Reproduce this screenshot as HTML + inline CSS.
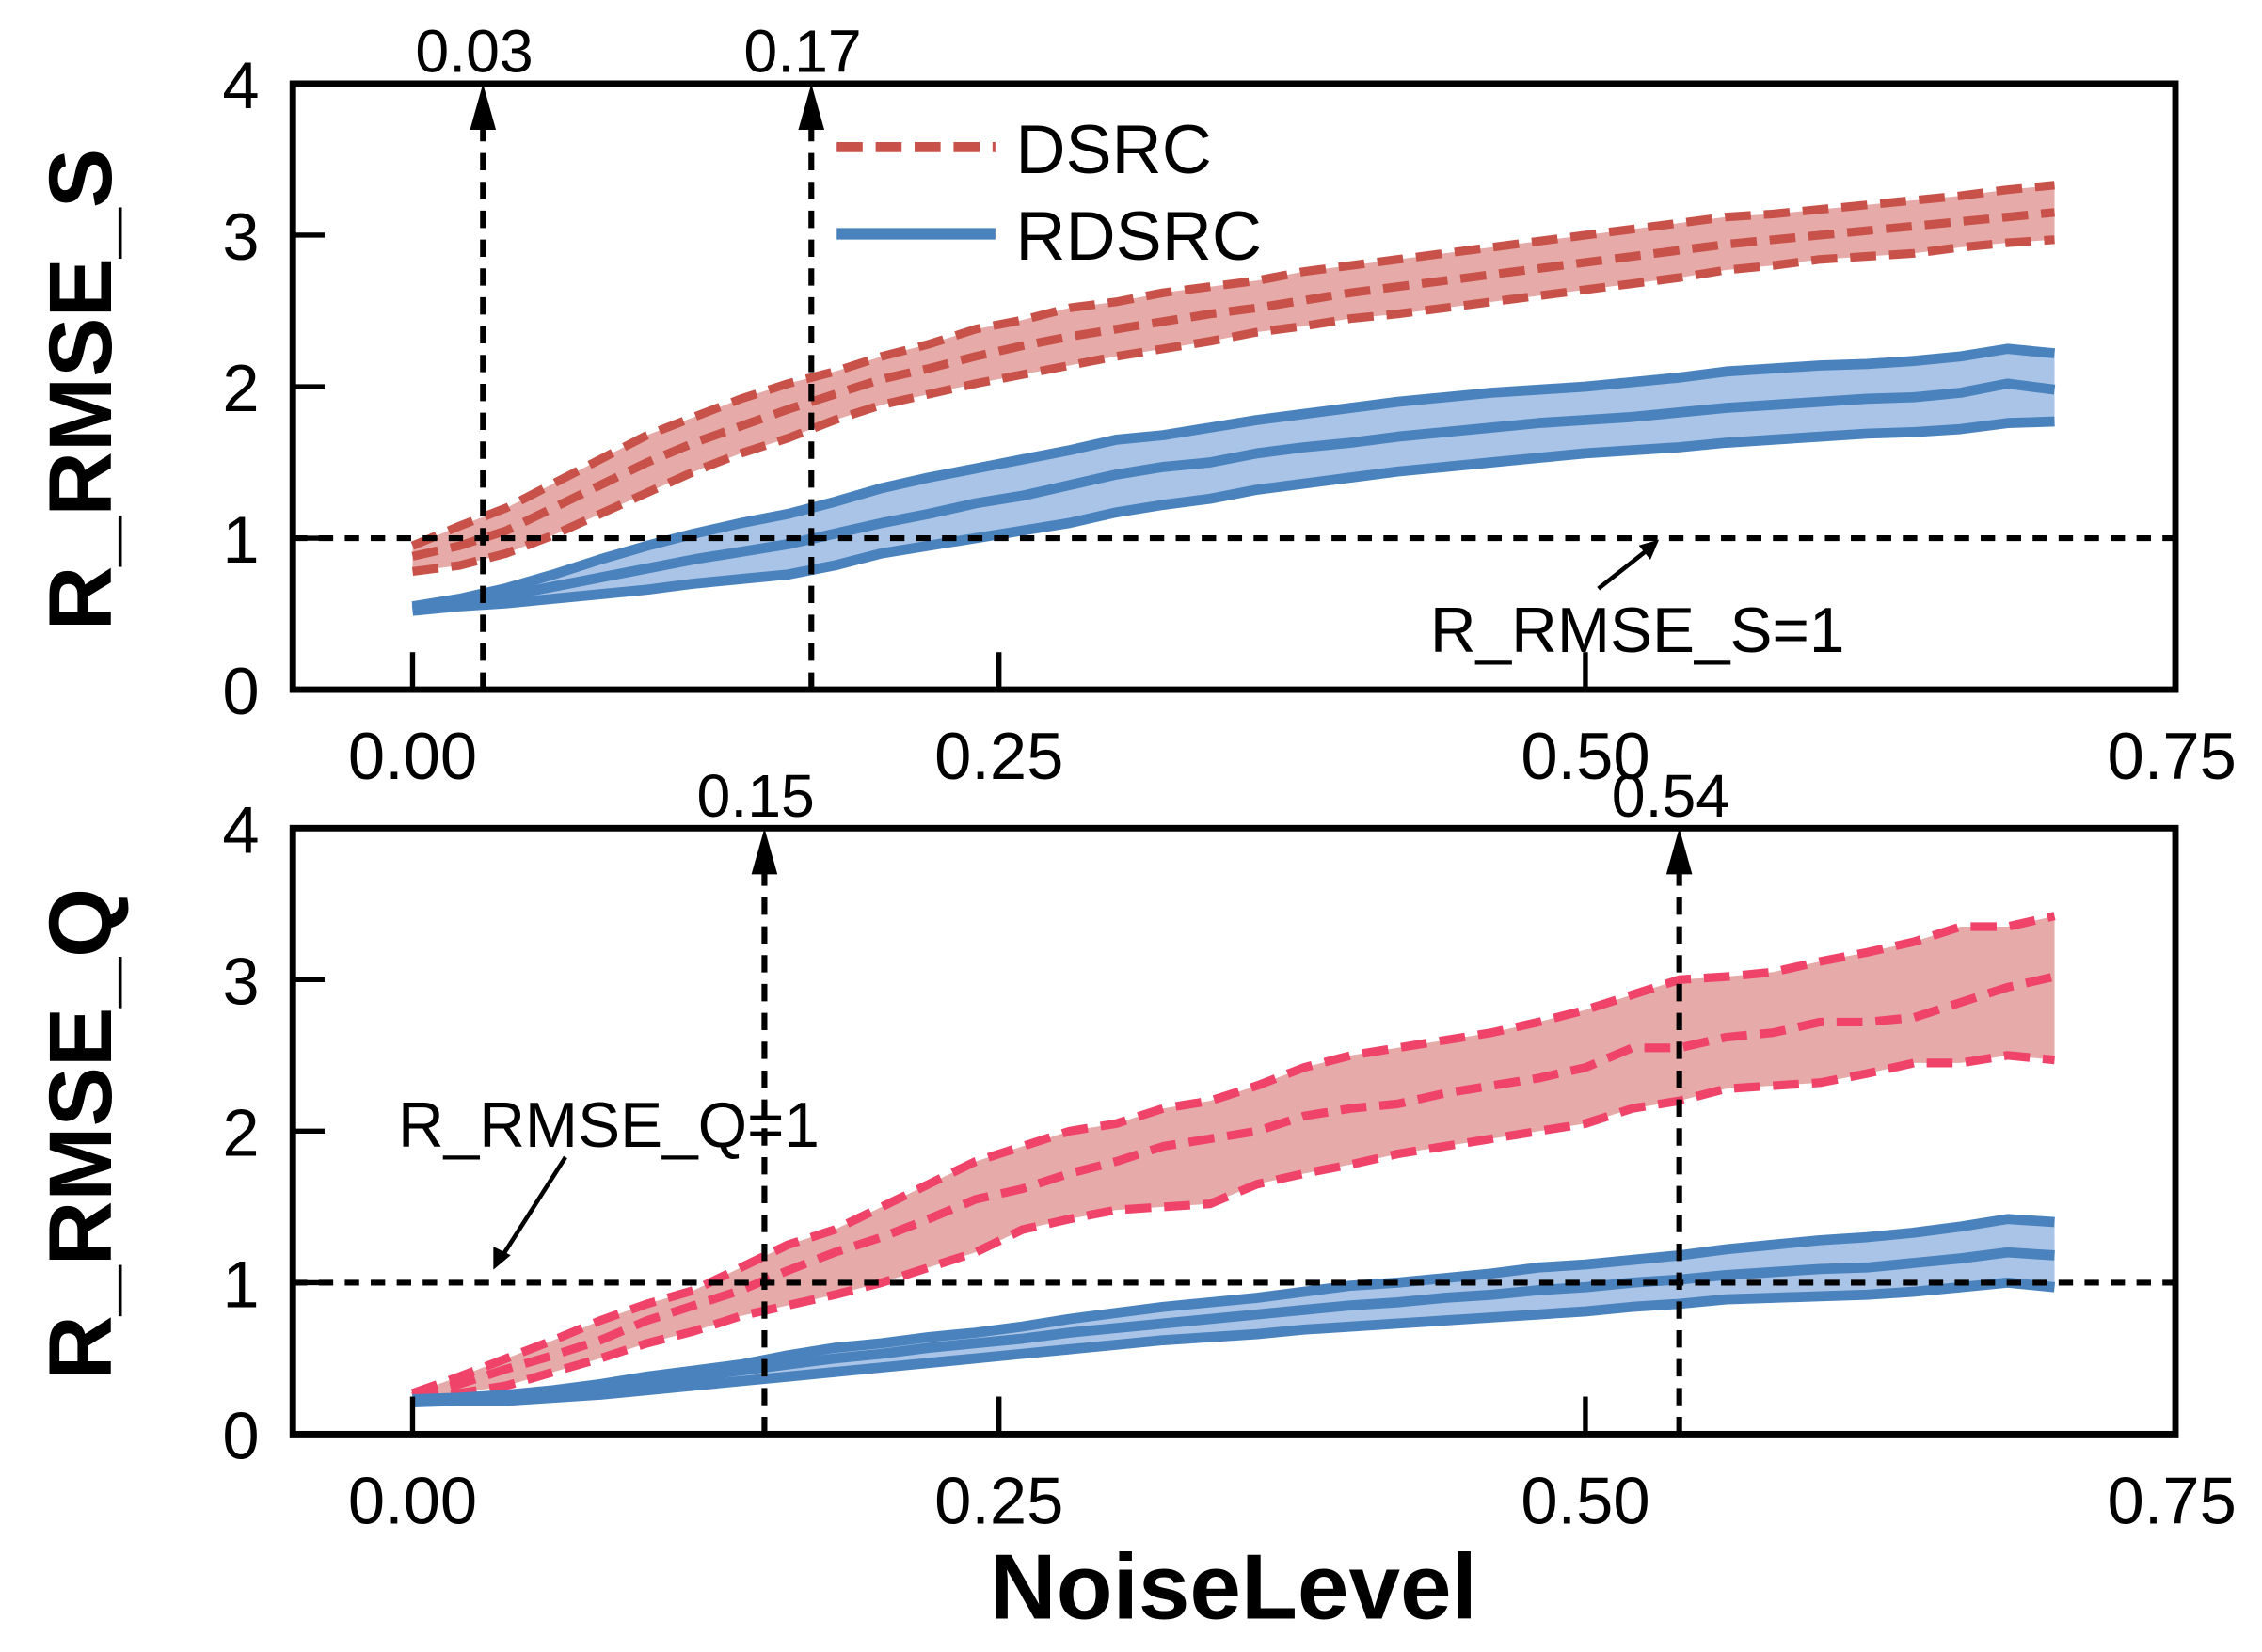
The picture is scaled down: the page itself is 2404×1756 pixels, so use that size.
<!DOCTYPE html>
<html><head><meta charset="utf-8"><style>
html,body{margin:0;padding:0;background:#fff;}
svg{display:block;font-family:"Liberation Sans",sans-serif;}
</style></head><body>
<svg id="chart" width="2404" height="1756" viewBox="0 0 1568 1145" preserveAspectRatio="none" xmlns="http://www.w3.org/2000/svg"></svg>
<script>
const xs = [0,0.02,0.04,0.06,0.08,0.10,0.12,0.14,0.16,0.18,0.20,0.22,0.24,0.26,0.28,0.30,0.32,0.34,0.36,0.38,0.40,0.42,0.44,0.46,0.48,0.50,0.52,0.54,0.56,0.58,0.60,0.62,0.64,0.66,0.68,0.70];
const xTicks = [0,0.25,0.5,0.75];
const xTickLabels = ["0.00","0.25","0.50","0.75"];
const yTicks = [0,1,2,3,4];
// Top panel: R_RMSE_S
const sDsrcMean = [0.88,0.95,1.05,1.2,1.35,1.5,1.63,1.74,1.85,1.95,2.05,2.12,2.2,2.27,2.33,2.38,2.43,2.48,2.52,2.57,2.62,2.66,2.7,2.74,2.78,2.82,2.86,2.9,2.94,2.97,3.0,3.03,3.06,3.09,3.12,3.15];
const sDsrcUp = [0.95,1.08,1.2,1.36,1.52,1.68,1.8,1.92,2.02,2.1,2.2,2.28,2.38,2.44,2.52,2.56,2.62,2.66,2.7,2.76,2.8,2.84,2.88,2.92,2.96,3.0,3.04,3.08,3.12,3.14,3.17,3.2,3.23,3.26,3.3,3.33];
const sDsrcLo = [0.78,0.82,0.9,1.02,1.16,1.3,1.44,1.56,1.66,1.78,1.88,1.95,2.02,2.08,2.14,2.2,2.25,2.3,2.36,2.4,2.45,2.48,2.52,2.56,2.6,2.64,2.68,2.72,2.77,2.8,2.84,2.86,2.88,2.92,2.95,2.97];
const sRdMean = [0.53,0.57,0.62,0.68,0.74,0.8,0.86,0.91,0.96,1.03,1.1,1.16,1.23,1.28,1.35,1.42,1.47,1.5,1.56,1.6,1.63,1.67,1.7,1.73,1.76,1.78,1.8,1.83,1.86,1.88,1.9,1.92,1.93,1.96,2.02,1.98];
const sRdUp = [0.55,0.6,0.67,0.76,0.86,0.95,1.03,1.1,1.16,1.24,1.33,1.4,1.46,1.52,1.58,1.65,1.68,1.73,1.78,1.82,1.86,1.9,1.93,1.96,1.98,2.0,2.03,2.06,2.1,2.12,2.14,2.15,2.17,2.2,2.25,2.22];
const sRdLo = [0.52,0.55,0.57,0.6,0.63,0.66,0.7,0.73,0.76,0.82,0.9,0.95,1.0,1.05,1.1,1.17,1.22,1.26,1.32,1.36,1.4,1.44,1.47,1.5,1.53,1.56,1.58,1.6,1.63,1.65,1.67,1.69,1.7,1.72,1.76,1.77];
// Bottom panel: R_RMSE_Q
const qDsrcMean = [0.25,0.33,0.43,0.52,0.62,0.75,0.85,0.95,1.08,1.2,1.3,1.42,1.55,1.62,1.72,1.8,1.9,1.95,2.0,2.1,2.15,2.18,2.25,2.3,2.35,2.42,2.55,2.55,2.62,2.65,2.72,2.72,2.75,2.85,2.95,3.02];
const qDsrcUp = [0.27,0.38,0.5,0.62,0.75,0.86,0.95,1.1,1.25,1.35,1.5,1.65,1.8,1.9,2.0,2.05,2.15,2.2,2.3,2.42,2.5,2.55,2.6,2.65,2.72,2.8,2.9,3.0,3.02,3.05,3.12,3.18,3.25,3.35,3.35,3.42];
const qDsrcLo = [0.22,0.27,0.32,0.41,0.5,0.6,0.68,0.78,0.85,0.92,1.0,1.1,1.2,1.35,1.42,1.48,1.5,1.52,1.65,1.72,1.78,1.85,1.9,1.95,2.0,2.05,2.15,2.2,2.28,2.3,2.32,2.38,2.45,2.45,2.5,2.47];
const qRdMean = [0.22,0.23,0.24,0.27,0.3,0.34,0.38,0.42,0.46,0.5,0.53,0.57,0.6,0.63,0.67,0.7,0.73,0.76,0.79,0.82,0.85,0.87,0.9,0.92,0.95,0.97,1.0,1.02,1.05,1.07,1.09,1.1,1.13,1.16,1.2,1.18];
const qRdUp = [0.23,0.24,0.26,0.29,0.33,0.38,0.42,0.46,0.52,0.57,0.6,0.64,0.67,0.71,0.76,0.8,0.84,0.87,0.9,0.94,0.98,1.0,1.03,1.06,1.1,1.12,1.15,1.18,1.22,1.25,1.28,1.3,1.33,1.37,1.42,1.4];
const qRdLo = [0.21,0.22,0.22,0.24,0.26,0.29,0.32,0.35,0.38,0.41,0.44,0.47,0.5,0.53,0.56,0.59,0.62,0.64,0.66,0.69,0.71,0.73,0.75,0.77,0.79,0.81,0.84,0.86,0.89,0.9,0.91,0.92,0.94,0.97,1.0,0.97];
const sMarks = [0.03,0.17];
const qMarks = [0.15,0.54];

const svg = document.getElementById('chart');
const NS = 'http://www.w3.org/2000/svg';
function mk(tag, attrs, parent){ const e=document.createElementNS(NS,tag); for(const k in attrs) e.setAttribute(k,attrs[k]); (parent||svg).appendChild(e); return e; }
const X0=203, X1=1508;
const xS = v => 286 + v*1626;

function panel(top, name, mean1, up1, lo1, mean2, up2, lo2, marks, dsrcColor, refName){
  const bot = top+420;
  const yS = v => bot - v*105;
  const g = mk('g',{});
  
  
  function band(up,lo,fill,label){
    let d='M'+xs.map((x,i)=>xS(x)+','+yS(up[i])).join('L');
    for(let i=xs.length-1;i>=0;i--) d+='L'+xS(xs[i])+','+yS(lo[i]);
    const p=mk('path',{d:d+'Z',fill:fill,stroke:'none'},g);
    
    
  }
  function line(arr,color,dash,label,w){
    const p=mk('path',{d:'M'+xs.map((x,i)=>xS(x)+','+yS(arr[i])).join('L'),fill:'none',stroke:color,'stroke-width':w,'stroke-dasharray':dash,'stroke-linejoin':'round'},g);
    
    
  }
  band(up1,lo1,'#e6aaa8',name+'-dsrc-band');
  band(up2,lo2,'#a9c4e6',name+'-rdsrc-band');
  line(up1,dsrcColor,'18 9',name+'-dsrc-upper',6);
  line(mean1,dsrcColor,'18 9',name+'-dsrc-mean',6);
  line(lo1,dsrcColor,'18 9',name+'-dsrc-lower',6);
  line(up2,'#4a82bd','',name+'-rdsrc-upper',7);
  line(mean2,'#4a82bd','',name+'-rdsrc-mean',7);
  line(lo2,'#4a82bd','',name+'-rdsrc-lower',7);
  const h=mk('line',{x1:X0,x2:X1,y1:yS(1),y2:yS(1),stroke:'#000','stroke-width':4,'stroke-dasharray':'10 8'},g);
  
  
  marks.forEach(m=>{
    const l=mk('line',{x1:xS(m),x2:xS(m),y1:bot,y2:top+28,stroke:'#000','stroke-width':4,'stroke-dasharray':'12 8'},g);
    
    
    const a=mk('polygon',{points:(xS(m)-9)+','+(top+32)+' '+(xS(m)+9)+','+(top+32)+' '+xS(m)+','+(top)},g);
    
    
    const t=mk('text',{x:xS(m)-6,y:top-8,'font-size':42,'text-anchor':'middle'},g);
    t.textContent=m.toFixed(2);
    
    
  });
  const r=mk('rect',{x:X0,y:top,width:X1-X0,height:420,fill:'none',stroke:'#000','stroke-width':4.5},g);
  
  
  xTicks.forEach((v,i)=>{
    if(v<0.7){ const tk=mk('line',{x1:xS(v),x2:xS(v),y1:bot,y2:bot-26,stroke:'#000','stroke-width':3.5},g);
      
       }
    const t=mk('text',{x:xS(v),y:bot+62,'font-size':46,'text-anchor':'middle'},g);
    t.textContent=xTickLabels[i];
    
    
  });
  yTicks.forEach(v=>{
    if(v>0&&v<4){ const tk=mk('line',{x1:X0,x2:X0+22,y1:yS(v),y2:yS(v),stroke:'#000','stroke-width':3.5},g);
      
       }
    const t=mk('text',{x:167,y:yS(v)+17,'font-size':46,'text-anchor':'middle'},g);
    t.textContent=String(v);
    
    
  });
  const yt=mk('text',{x:0,y:0,'font-size':62,'font-weight':'bold','text-anchor':'middle',transform:'translate(77,'+(top+212)+') rotate(-90)'},g);
  yt.textContent=refName;
  
  
  return yS;
}
panel(58,'s',sDsrcMean,sDsrcUp,sDsrcLo,sRdMean,sRdUp,sRdLo,sMarks,'#c8524a','R_RMSE_S');
panel(574,'q',qDsrcMean,qDsrcUp,qDsrcLo,qRdMean,qRdUp,qRdLo,qMarks,'#f0436a','R_RMSE_Q');

let e;
e=mk('line',{x1:1108,y1:408,x2:1146,y2:378,stroke:'#000','stroke-width':3});


e=mk('polygon',{points:'1150,374 1136,378 1144,388'});


e=mk('text',{x:1135,y:452,'font-size':44,'text-anchor':'middle'});
e.textContent='R_RMSE_S=1';


e=mk('line',{x1:392,y1:802,x2:346,y2:874,stroke:'#000','stroke-width':3});


e=mk('polygon',{points:'342,880 342,864 354,870'});


e=mk('text',{x:422,y:795,'font-size':44,'text-anchor':'middle'});
e.textContent='R_RMSE_Q=1';



e=mk('line',{x1:580,x2:690,y1:102,y2:102,stroke:'#c8524a','stroke-width':7,'stroke-dasharray':'18 9'});


e=mk('text',{x:704,y:120,'font-size':48});
e.textContent='DSRC';


e=mk('line',{x1:580,x2:690,y1:162,y2:162,stroke:'#4a82bd','stroke-width':8});


e=mk('text',{x:704,y:180,'font-size':48});
e.textContent='RDSRC';



e=mk('text',{x:855,y:1122,'font-size':64,'font-weight':'bold','text-anchor':'middle'});
e.textContent='NoiseLevel';


</script>
</body></html>
